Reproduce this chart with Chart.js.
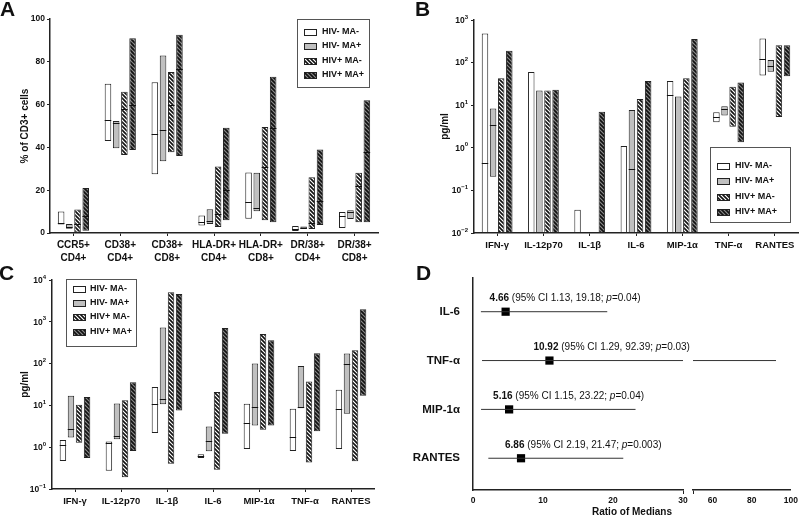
<!DOCTYPE html>
<html>
<head>
<meta charset="utf-8">
<script src="https://cdn.jsdelivr.net/npm/chart.js@4.4.0/dist/chart.umd.min.js"></script>
<style>
  body { margin: 0; background: #fff; }
  #wrap { position: relative; width: 800px; height: 516px; overflow: hidden; }
  .panel { position: absolute; }
  .tag { position: absolute; font: bold 21px "Liberation Sans", Arial, sans-serif; line-height: 21px; color: #111; }
</style>
</head>
<body>
<div id="wrap">
  <div class="panel" style="left:0;top:0;width:400px;height:268px"><canvas id="cellChart"></canvas></div>
  <div class="panel" style="left:400px;top:0;width:400px;height:262px"><canvas id="plasmaChart"></canvas></div>
  <div class="panel" style="left:0;top:262px;width:400px;height:254px"><canvas id="csfChart"></canvas></div>
  <div class="panel" style="left:400px;top:262px;width:400px;height:254px"><canvas id="ratioChart"></canvas></div>
  <div class="panel" style="left:400px;top:262px;width:400px;height:254px"><canvas id="ratioChart2"></canvas></div>
  <div class="tag" style="left:0;top:-2px">A</div>
  <div class="tag" style="left:415px;top:-2px">B</div>
  <div class="tag" style="left:-1px;top:262px">C</div>
  <div class="tag" style="left:416px;top:262px">D</div>
</div>
<script>
// groups and categories
const groups = ['HIV- MA-', 'HIV- MA+', 'HIV+ MA-', 'HIV+ MA+'];
const cellCats = [['CCR5+', 'CD4+'], ['CD38+', 'CD4+'], ['CD38+', 'CD8+'], ['HLA-DR+', 'CD4+'],
                  ['HLA-DR+', 'CD8+'], ['DR/38+', 'CD4+'], ['DR/38+', 'CD8+']];
const cytoCats = ['IFN-γ', 'IL-12p70', 'IL-1β', 'IL-6', 'MIP-1α', 'TNF-α', 'RANTES'];

// A: % of CD3+ cells (min, max, median per group)
const cellMin = [
  [4, 43, 27.5, 3.5, 6.7, 0.9, 2.3],
  [2, 39.6, 33.5, 4.2, 10.2, 2, 6.5],
  [0, 36.4, 37.7, 2.8, 5.9, 1.9, 5],
  [1, 38.8, 36, 5.9, 5, 3.7, 5]
];
const cellMax = [
  [10, 69.7, 70.4, 8.2, 28.3, 3.3, 9.8],
  [4.2, 52.3, 83, 11.1, 28.1, 3, 10.6],
  [11, 66, 75.2, 31.1, 49.5, 26.1, 28.1],
  [21, 91, 92.6, 49.2, 73, 39, 62]
];
const cellMed = [
  [4.5, 52.6, 46.4, 5.1, 14.3, 2, 7.9],
  [3, 51.5, 48.2, 5.6, 11.8, 2.5, 9.8],
  [4, 58, 60, 9, 31, 4.5, 22],
  [8, 60, 76.5, 20, 49, 15, 38]
];

// B: pg/ml
const plasmaMin = [
  [0.01, 0.01, 0.01, 0.01, 0.01, 4.0, 50],
  [0.21, 0.01, null, 0.01, 0.01, 5.7, 61],
  [0.01, 0.01, null, 0.01, 0.01, 3.1, 5.3],
  [0.01, 0.01, 0.01, 0.01, 0.01, 1.35, 48]
];
const plasmaMax = [
  [480, 60, 0.035, 1.1, 37, 6.8, 370],
  [8.4, 22, null, 7.7, 16, 9.5, 115],
  [43, 22, null, 14, 43, 27, 254],
  [190, 23, 7.0, 37, 357, 34, 254]
];
const plasmaMed = [
  [0.45, null, null, null, 17, 5.2, 121],
  [3.5, null, null, 0.31, null, 8.2, 84],
  [null, null, null, null, null, null, null],
  [null, null, null, null, null, null, null]
];

// C: pg/ml
const csfMin = [
  [0.47, 0.275, 2.2, 0.55, 0.9, 0.81, 0.9],
  [1.71, 1.56, 10.7, 0.8, 3.3, 8.5, 6.3],
  [1.28, 0.19, 0.4, 0.29, 2.6, 0.43, 0.46],
  [0.55, 0.81, 7.6, 2.1, 3.3, 2.4, 17]
];
const csfMax = [
  [1.48, 1.37, 27.4, 0.68, 10.9, 8.3, 23.6],
  [17, 11.1, 727, 3.14, 100, 88, 174],
  [10.3, 13.2, 5070, 20.8, 514, 37.5, 209],
  [15.8, 36, 4630, 714, 361, 177, 2000]
];
const csfMed = [
  [1.12, 1.25, 11.1, 0.6, 3.7, 1.75, 8.2],
  [2.7, 1.85, 14.6, 1.41, 9, 9, 97],
  [null, null, null, null, null, null, null],
  [null, null, null, null, null, null, null]
];

// D: ratio of medians
const ratioCats = ['IL-6', 'TNF-α', 'MIP-1α', 'RANTES'];
const ratioVal = [4.66, 10.92, 5.16, 6.86];
const ciLow = [1.13, 1.29, 1.15, 2.19];
const ciHigh = [19.18, 92.39, 23.22, 21.47];
const pVals = ['0.04', '0.03', '0.04', '0.003'];

const FONT = '"Liberation Sans", Arial, sans-serif';
Chart.defaults.font.family = FONT;
Chart.defaults.color = '#111';
Chart.defaults.animation = false;

function hatch(bg) {
  const s = 4, c = document.createElement('canvas');
  c.width = c.height = s;
  const g = c.getContext('2d');
  g.fillStyle = bg;
  g.fillRect(0, 0, s, s);
  g.strokeStyle = '#111';
  g.lineWidth = 1.6;
  g.beginPath();
  g.moveTo(-1, -1); g.lineTo(s + 1, s + 1);
  g.moveTo(-2, s - 2); g.lineTo(2, s + 2);
  g.moveTo(s - 2, -2); g.lineTo(s + 2, 2);
  g.stroke();
  return g.createPattern(c, 'repeat');
}
const fills = ['#ffffff', '#c0c0c0', hatch('#ffffff'), hatch('#8a8a8a')];

const isDecade = v => Math.abs(Math.log10(v) - Math.round(Math.log10(v))) < 1e-9;

// median line across each floating bar
const medianLines = {
  id: 'medianLines',
  afterDatasetsDraw(chart) {
    const ctx = chart.ctx, y = chart.scales.y;
    ctx.save();
    ctx.strokeStyle = '#111';
    ctx.lineWidth = 1;
    chart.data.datasets.forEach((ds, d) => {
      chart.getDatasetMeta(d).data.forEach((bar, i) => {
        const m = ds.medians[i];
        if (m == null || ds.data[i] == null) return;
        const py = Math.round(y.getPixelForValue(m)) + 0.5;
        ctx.beginPath();
        ctx.moveTo(bar.x - bar.width / 2, py);
        ctx.lineTo(bar.x + bar.width / 2, py);
        ctx.stroke();
      });
    });
    ctx.restore();
  }
};

// "10" with raised exponent on log axes
const expLabels = {
  id: 'expLabels',
  afterDraw(chart) {
    const s = chart.scales.y;
    if (s.type !== 'logarithmic') return;
    const ctx = chart.ctx;
    ctx.save();
    ctx.fillStyle = '#111';
    ctx.textBaseline = 'middle';
    ctx.textAlign = 'right';
    s.ticks.forEach(t => {
      const py = s.getPixelForValue(t.value);
      const e = String(Math.round(Math.log10(t.value))).replace('-', '\u2212');
      const right = s.right - 6;
      ctx.font = `bold 6px ${FONT}`;
      const ew = ctx.measureText(e).width;
      ctx.fillText(e, right, py - 3);
      ctx.font = `bold 8.5px ${FONT}`;
      ctx.fillText('10', right - ew, py + 0.5);
    });
    ctx.restore();
  }
};

// boxed legend inside the plot
const boxLegend = {
  id: 'boxLegend',
  afterDraw(chart, args, o) {
    const ctx = chart.ctx;
    ctx.save();
    ctx.fillStyle = '#fff';
    ctx.fillRect(o.x, o.y, o.w, o.h);
    ctx.strokeStyle = '#555';
    ctx.lineWidth = 1;
    ctx.strokeRect(o.x + 0.5, o.y + 0.5, o.w, o.h);
    ctx.font = `bold 9px ${FONT}`;
    ctx.textBaseline = 'middle';
    chart.data.datasets.forEach((ds, i) => {
      const cy = Math.round(o.y + o.first + i * o.step);
      ctx.fillStyle = ds.backgroundColor;
      ctx.fillRect(o.x + o.sx, cy - 3, 12, 7);
      ctx.strokeStyle = '#222';
      ctx.strokeRect(o.x + o.sx + 0.5, cy - 2.5, 12, 6);
      ctx.fillStyle = '#111';
      ctx.fillText(ds.label, o.x + o.tx, cy);
    });
    ctx.restore();
  }
};

function boxSets(mins, maxs, meds) {
  return groups.map((label, g) => ({
    label,
    data: mins[g].map((lo, i) => lo == null ? null : [lo, maxs[g][i]]),
    medians: meds[g],
    backgroundColor: fills[g],
    borderColor: '#222',
    borderWidth: 1,
    borderSkipped: false,
    categoryPercentage: 0.7,
    barPercentage: 0.8
  }));
}

function axisY(extra) {
  return Object.assign({
    grid: { display: true, drawOnChartArea: false, tickLength: 3, color: '#222' },
    border: { color: '#222', width: 1.5 }
  }, extra);
}

function boxChart(id, cats, sets, o) {
  return new Chart(document.getElementById(id), {
    type: 'bar',
    data: { labels: cats, datasets: sets },
    options: {
      responsive: true,
      maintainAspectRatio: false,
      layout: { padding: o.padding },
      plugins: { legend: { display: false }, tooltip: { enabled: false }, boxLegend: o.legend },
      scales: {
        x: {
          grid: { display: true, drawOnChartArea: false, offset: false, tickLength: 3, color: '#222' },
          border: { color: '#222', width: 1.5 },
          ticks: { font: { weight: 'bold', size: o.catSize, lineHeight: 1.3 }, color: '#111', padding: 3,
                   maxRotation: 0, autoSkip: false },
          afterFit: s => { s.height = o.xh; }
        },
        y: o.y
      }
    },
    plugins: [medianLines, expLabels, boxLegend]
  });
}

// A
boxChart('cellChart', cellCats, boxSets(cellMin, cellMax, cellMed), {
  padding: { top: 19, right: 22, left: 0, bottom: 0 },
  catSize: 10, xh: 35,
  legend: { x: 297, y: 19, w: 72, h: 68, sx: 7, tx: 25, first: 12.5, step: 14.5 },
  y: axisY({
    min: 0, max: 100,
    ticks: { stepSize: 20, font: { weight: 'bold', size: 8.5 }, color: '#111', padding: 2 },
    title: { display: true, text: '% of CD3+ cells', font: { weight: 'bold', size: 10 }, color: '#111',
             padding: { top: 19, bottom: 0 } },
    afterFit: s => { s.width = 50; }
  })
});

function logY(min, max, width, titlePad) {
  return axisY({
    type: 'logarithmic', min, max,
    afterBuildTicks: s => { s.ticks = s.ticks.filter(t => isDecade(t.value)); },
    ticks: { display: false },
    title: { display: true, text: 'pg/ml', font: { weight: 'bold', size: 10 }, color: '#111',
             padding: { top: titlePad, bottom: 0 } },
    afterFit: s => { s.width = width; }
  });
}

// B
boxChart('plasmaChart', cytoCats, boxSets(plasmaMin, plasmaMax, plasmaMed), {
  padding: { top: 20, right: 2, left: 0, bottom: 0 },
  catSize: 9.5, xh: 29,
  legend: { x: 310, y: 147, w: 80, h: 75, sx: 7, tx: 25, first: 19, step: 15.3 },
  y: logY(0.01, 1000, 74, 39)
});

// C
boxChart('csfChart', cytoCats, boxSets(csfMin, csfMax, csfMed), {
  padding: { top: 18, right: 26, left: 0, bottom: 0 },
  catSize: 9.5, xh: 27,
  legend: { x: 66, y: 17, w: 70, h: 67, sx: 7, tx: 24, first: 10, step: 14.2 },
  y: logY(0.1, 10000, 52, 19)
});

// D: forest plot with broken x axis (two charts side by side)
const ciText = {
  id: 'ciText',
  afterDatasetsDraw(chart) {
    const { ctx, scales: { x, y } } = chart;
    ctx.save();
    ctx.textBaseline = 'middle';
    ctx.fillStyle = '#111';
    ratioVal.forEach((r, i) => {
      let px = x.getPixelForValue(r) - 16;
      const py = y.getPixelForValue(i) - 13;
      const parts = [
        ['bold ', r.toFixed(2)],
        ['', ` (95% CI ${ciLow[i].toFixed(2)}, ${ciHigh[i].toFixed(2)}; `],
        ['italic ', 'p'],
        ['', `=${pVals[i]})`]
      ];
      parts.forEach(([st, t]) => {
        ctx.font = `${st}10px ${FONT}`;
        ctx.fillText(t, px, py);
        px += ctx.measureText(t).width;
      });
    });
    ctx.font = `bold 10px ${FONT}`;
    ctx.textAlign = 'center';
    ctx.fillText('Ratio of Medians', 232, 250);
    ctx.restore();
  }
};

function ratioSets() {
  const lines = ratioCats.map((c, i) => ({
    data: [{ x: ciLow[i], y: i }, { x: ciHigh[i], y: i }],
    showLine: true, borderColor: '#333', borderWidth: 1, pointRadius: 0, clip: 0
  }));
  const marks = {
    data: ratioVal.map((r, i) => ({ x: r, y: i })),
    pointStyle: 'rect', pointRadius: 5.8, backgroundColor: '#000', borderWidth: 0, clip: 0
  };
  return lines.concat([marks]);
}

function ratioY(show) {
  return {
    type: 'linear', reverse: true, min: -0.69, max: 3.65, display: show,
    afterBuildTicks: s => { s.ticks = ratioCats.map((c, i) => ({ value: i })); },
    ticks: { callback: v => ratioCats[v], font: { weight: 'bold', size: 11.5 }, color: '#111', padding: 5 },
    grid: { display: false },
    border: { color: '#222', width: 1.5 },
    afterFit: s => { s.width = show ? 73 : 0; }
  };
}

function ratioX(min, max, step, breakAt) {
  return {
    type: 'linear', min, max,
    ticks: { stepSize: step, font: { weight: 'bold', size: 8.5 }, color: '#111', padding: 2,
             maxRotation: 0, callback: v => v === 50 ? '' : v },
    grid: { display: true, drawOnChartArea: false, tickLength: 4,
            color: c => (c.tick && c.tick.value === breakAt) ? '#222' : 'rgba(0,0,0,0)' },
    border: { color: '#222', width: 1.5 },
    afterFit: s => { s.height = 26; }
  };
}

new Chart(document.getElementById('ratioChart'), {
  type: 'scatter',
  data: { datasets: ratioSets() },
  options: {
    responsive: true, maintainAspectRatio: false,
    layout: { padding: { top: 16, right: 117, left: 0, bottom: 0 } },
    plugins: { legend: { display: false }, tooltip: { enabled: false } },
    scales: { x: ratioX(0, 30, 10, 30), y: ratioY(true) }
  },
  plugins: [ciText]
});

new Chart(document.getElementById('ratioChart2'), {
  type: 'scatter',
  data: { datasets: ratioSets() },
  options: {
    responsive: true, maintainAspectRatio: false,
    layout: { padding: { top: 16, right: 9, left: 293, bottom: 0 } },
    plugins: { legend: { display: false }, tooltip: { enabled: false } },
    scales: { x: ratioX(50, 100, 20, 50), y: ratioY(false) }
  }
});
</script>
</body>
</html>
